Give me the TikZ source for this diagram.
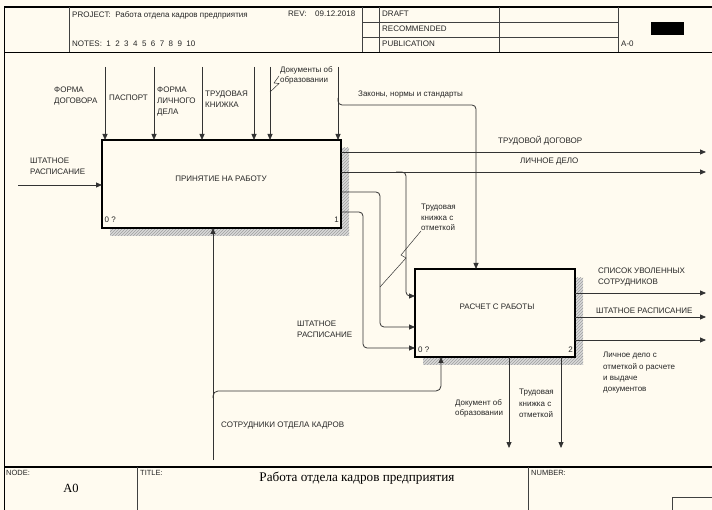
\documentclass[tikz,border=0pt]{standalone}
\usepackage{fontspec}
\setmainfont{Liberation Sans}
\newfontfamily\serifru{Liberation Serif}
\usetikzlibrary{arrows.meta,patterns}
\definecolor{bg}{HTML}{FFFBF0}
\definecolor{ln}{HTML}{333333}
\definecolor{tx}{HTML}{262626}
\begin{document}
\begin{tikzpicture}[x=1pt,y=-1pt,
  lbl/.style={anchor=north west, inner sep=0pt, align=left, text=tx, font=\fontsize{8}{11}\selectfont},
  lble/.style={lbl, anchor=north east, align=right},
  boxnode/.style={draw=black, line width=1.6pt, fill=bg, inner sep=0pt, outer sep=0pt},
  arr/.style={draw=ln, line width=0.8pt, -{Triangle[length=6pt,width=5pt]}},
  frame/.style={draw=black!75, line width=0.8pt},
  thick frame/.style={draw=black, line width=1.6pt},
  shadow/.style={fill=gray!30, postaction={pattern=north east lines, pattern color=gray!75}},
  leader/.style={draw=ln, line width=0.5pt}
]
\useasboundingbox (0,0) rectangle (712,510);
\fill[bg] (0,0) rectangle (712,510);

% ---------- frame ----------
\draw[thick frame] (4.5,510) -- (4.5,7) -- (712,7);
\draw[frame] (69,7) -- (69,52.5);
\draw[frame] (362,7) -- (362,52.5);
\draw[frame] (379,7) -- (379,52.5);
\draw[frame] (499,7) -- (499,52.5);
\draw[frame] (618,7) -- (618,52.5);
\draw[frame] (362,22.5) -- (618,22.5);
\draw[frame] (362,37.5) -- (618,37.5);
\draw[draw=black, line width=1.2pt] (4.5,52.5) -- (712,52.5);
\fill[black] (651,22) rectangle (684,35);

\draw[draw=black, line width=1.2pt] (4.5,467) -- (712,467);
\draw[frame] (137,467) -- (137,510);
\draw[frame] (528,467) -- (528,510);
\draw[frame] (672,510) -- (672,497) -- (712,497);

\node[lbl] (hproj) at (72,11) {PROJECT:\ \ Работа отдела кадров предприятия};
\node[lbl] (hrev) at (288,11) {REV:};
\node[lbl] (hdate) at (315,11) {09.12.2018};
\node[lbl] (hnotes) at (72,41) {NOTES:\ \ 1\ \ 2\ \ 3\ \ 4\ \ 5\ \ 6\ \ 7\ \ 8\ \ 9\ \ 10};
\node[lbl] (hdraft) at (382,10.5) {DRAFT};
\node[lbl] (hrec) at (382,26) {RECOMMENDED};
\node[lbl] (hpub) at (382,41) {PUBLICATION};
\node[lbl] (hnum) at (621,41) {A-0};

\node[lbl, font=\fontsize{7.5}{9}\selectfont] (fnode) at (6,470.5) {NODE:};
\node[lbl, font=\fontsize{7.5}{9}\selectfont] (ftitle) at (140,470.5) {TITLE:};
\node[lbl, font=\fontsize{7.5}{9}\selectfont] (fnumber) at (531,470.5) {NUMBER:};
\node[inner sep=0pt, text=black, font=\serifru\fontsize{12.5}{14}\selectfont] (fa0) at (71,488) {A0};
\node[inner sep=0pt, text=black, font=\serifru\fontsize{13.2}{15}\selectfont] (fmain) at (357,478) {Работа отдела кадров предприятия};

% ---------- shadows ----------
\path[shadow] (341,148) rectangle (349,236);
\path[shadow] (110,228) rectangle (349,236);
\path[shadow] (575,278) rectangle (583,365);
\path[shadow] (423,357) rectangle (583,365);

% ---------- boxes ----------
\node[boxnode, minimum width=239pt, minimum height=88pt] (b1) at (221.5,184) {};
\node[boxnode, minimum width=160pt, minimum height=88pt] (b2) at (495,313) {};

\node[lbl, anchor=center] (b1t) at (221,179) {ПРИНЯТИЕ НА РАБОТУ};
\node[lbl] (b1n) at (104.5,216.5) {0 ?};
\node[lble] (b1k) at (339,216.5) {1};
\node[lbl, anchor=center] (b2t) at (497,307) {РАСЧЕТ С РАБОТЫ};
\node[lbl] (b2n) at (418,346.5) {0 ?};
\node[lble] (b2k) at (573,346.5) {2};

% ---------- inputs/controls ----------
\coordinate (ina) at (105,67);
\coordinate (inb) at (154,67);
\coordinate (inc) at (202,67);
\coordinate (ind) at (254,67);
\coordinate (ine) at (270,67);
\coordinate (inf) at (338,67);
\foreach \c in {ina,inb,inc,ind,ine,inf}
  \draw[arr] (\c) -- (\c |- b1.north);

\coordinate (zb) at (338,98);
\coordinate (zc) at (476,105);
\draw[arr, rounded corners=4pt] (zb) |- (zc) -- (zc |- b2.north);

\coordinate (lin) at (18,185);
\draw[arr] (lin) -- (lin -| b1.west);

% ---------- outputs of box 1 ----------
\coordinate (o1) at (706,152);
\coordinate (o2) at (706,172);
\draw[arr] (o1 -| b1.east) -- (o1);
\draw[arr] (o2 -| b1.east) -- (o2);

\coordinate (k2a) at (396,172);
\coordinate (k2) at (406,172);
\coordinate (k2b) at (406,296);
\draw[arr, rounded corners=4pt] (k2a) -- (k2) -- (k2b) -- (k2b -| b2.west);

\coordinate (k3) at (380,192);
\coordinate (k3b) at (380,327);
\draw[arr, rounded corners=4pt] (k3 -| b1.east) -- (k3) -- (k3b) -- (k3b -| b2.west);

\coordinate (k4) at (363,212);
\coordinate (k4b) at (363,348);
\draw[arr, rounded corners=4pt] (k4 -| b1.east) -- (k4) -- (k4b) -- (k4b -| b2.west);

% ---------- outputs of box 2 ----------
\coordinate (q1) at (706,293);
\coordinate (q2) at (706,317);
\coordinate (q3) at (706,340);
\draw[arr] (q1 -| b2.east) -- (q1);
\draw[arr] (q2 -| b2.east) -- (q2);
\draw[arr] (q3 -| b2.east) -- (q3);

\coordinate (d1) at (509,448);
\coordinate (d2) at (561,448);
\draw[arr] (d1 |- b2.south) -- (d1);
\draw[arr] (d2 |- b2.south) -- (d2);

% ---------- mechanisms ----------
\coordinate (m0) at (213,460);
\draw[arr] (m0) -- (m0 |- b1.south);
\coordinate (m1) at (213,398);
\coordinate (m2) at (441,391);
\draw[arr, rounded corners=5pt] (m1) |- (m2) -- (m2 |- b2.south);

% ---------- leaders ----------
\coordinate (la1) at (279,76);
\coordinate (la2) at (274,83);
\coordinate (la3) at (279,83.5);
\coordinate (la4) at (270,92);
\draw[leader] (la1) -- (la2) -- (la3) -- (la4);

\coordinate (lb1) at (421,231);
\coordinate (lb2) at (401,255);
\coordinate (lb3) at (406,258);
\coordinate (lb4) at (380,287);
\draw[leader] (lb1) -- (lb2) -- (lb3) -- (lb4);

% ---------- labels ----------
\node[lbl] (l1) at (54,87) {ФОРМА\\ДОГОВОРА};
\node[lbl] (l2) at (109,95) {ПАСПОРТ};
\node[lbl] (l3) at (157,87) {ФОРМА\\ЛИЧНОГО\\ДЕЛА};
\node[lbl] (l4) at (205,91) {ТРУДОВАЯ\\КНИЖКА};
\node[lbl, font=\fontsize{8}{10}\selectfont] (l5) at (280,66) {Документы об\\образовании};
\node[lbl] (l6) at (358,91) {Законы, нормы и стандарты};
\node[lbl] (l7) at (30,158) {ШТАТНОЕ\\РАСПИСАНИЕ};
\node[lbl] (l8) at (498,136) {ТРУДОВОЙ ДОГОВОР};
\node[lbl] (l9) at (520,158) {ЛИЧНОЕ ДЕЛО};
\node[lbl, font=\fontsize{8}{10.5}\selectfont] (l10) at (421,204) {Трудовая\\книжка с\\отметкой};
\node[lbl] (l11) at (297,321) {ШТАТНОЕ\\РАСПИСАНИЕ};
\node[lbl] (l12) at (598,268) {СПИСОК УВОЛЕННЫХ\\СОТРУДНИКОВ};
\node[lbl] (l13) at (596,308) {ШТАТНОЕ РАСПИСАНИЕ};
\node[lbl, font=\fontsize{8}{11.3}\selectfont] (l14) at (603,352) {Личное дело с\\отметкой о расчете\\и выдаче\\документов};
\node[lbl, font=\fontsize{8}{10.5}\selectfont] (l15) at (455,399) {Документ об\\образовании};
\node[lbl, font=\fontsize{8}{11.5}\selectfont] (l16) at (519,389) {Трудовая\\книжка с\\отметкой};
\node[lbl] (l17) at (221,422) {СОТРУДНИКИ ОТДЕЛА КАДРОВ};
\end{tikzpicture}
\end{document}
